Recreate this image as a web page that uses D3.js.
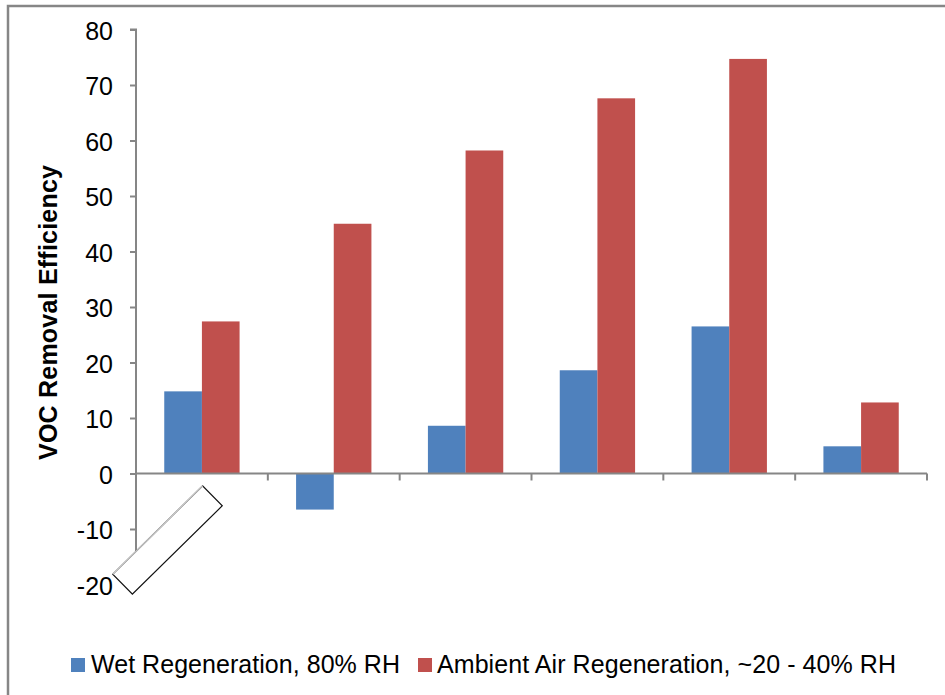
<!DOCTYPE html>
<html>
<head>
<meta charset="utf-8">
<script src="https://cdn.jsdelivr.net/npm/d3@7"></script>
<style>
  html, body { margin: 0; padding: 0; background: #fff; }
  svg { display: block; font-family: "Liberation Sans", Arial, sans-serif; }
</style>
</head>
<body>
<svg id="chart" width="945" height="695"></svg>
<script>
// ---- Data ----
const categories = ["1", "2", "3", "4", "5", "6"];
const seriesNames = ["Wet Regeneration, 80% RH", "Ambient Air Regeneration, ~20 - 40% RH"];
const wetValues = [14.8, -6.5, 8.6, 18.6, 26.5, 4.9];
const ambientValues = [27.4, 45.0, 58.2, 67.6, 74.7, 12.8];
const yTicks = [-20, -10, 0, 10, 20, 30, 40, 50, 60, 70, 80];
const seriesColors = ["#4F81BD", "#C0504D"];
const yTitle = "VOC Removal Efficiency";

(function () {
const series = [wetValues, ambientValues];
const rows = categories.map((c, i) => ({ cat: c, vals: series.map((s, j) => ({ key: j, v: s[i] })) }));

const svg = d3.select("#chart");
const axisColor = "#868686";

// outer chart border
svg.append("rect").attr("x", 8).attr("y", 6).attr("width", 1000).attr("height", 1000)
  .attr("fill", "none").attr("stroke", axisColor).attr("stroke-width", 2.5);

const pLeft = 136, pRight = 927, pTop = 29.5, pBottom = 584.5;
const x = d3.scaleBand().domain(categories).range([pLeft, pRight]).paddingInner(0).paddingOuter(0);
const x1 = d3.scaleBand().domain(d3.range(series.length)).range([0, x.bandwidth()]).paddingInner(0).paddingOuter(0.75);
const y = d3.scaleLinear().domain([-20, 80]).range([pBottom, pTop]);

// bars
const g = svg.append("g");
g.selectAll("g.cat").data(rows).join("g").attr("class", "cat")
  .attr("transform", d => `translate(${x(d.cat)},0)`)
  .selectAll("rect").data(d => d.vals).join("rect")
  .attr("x", d => x1(d.key))
  .attr("width", x1.bandwidth())
  .attr("y", d => y(Math.max(0, d.v)))
  .attr("height", d => Math.abs(y(d.v) - y(0)))
  .attr("fill", d => seriesColors[d.key]);

// y axis
const yAxis = d3.axisLeft(y).tickValues(yTicks).tickSize(6).tickPadding(17).tickFormat(d => String(d));
const ya = svg.append("g").attr("transform", `translate(${pLeft},0)`).call(yAxis);
ya.select(".domain").attr("stroke", axisColor).attr("stroke-width", 2).attr("d", `M-6,${pTop}H0V${pBottom}H-6`);
ya.selectAll(".tick line").attr("stroke", axisColor).attr("stroke-width", 2);
ya.selectAll(".tick text").attr("fill", "#000").attr("dy", "0.38em")
  .style("font-size", "25px").style("font-family", "'Liberation Sans', Arial, sans-serif");

// x axis at zero
const xAxis = d3.axisBottom(x).tickSize(0).tickFormat(() => "");
const xa = svg.append("g").attr("transform", `translate(0,${y(0)})`).call(xAxis);
xa.select(".domain").attr("stroke", axisColor).attr("stroke-width", 2).attr("d", `M${pLeft},0H${pRight}`);
xa.selectAll(".tick").remove();
const bounds = categories.map(c => x(c) + x.bandwidth());
xa.selectAll("line.bt").data(bounds).join("line").attr("class", "bt")
  .attr("x1", d => d).attr("x2", d => d).attr("y1", 0).attr("y2", 7)
  .attr("stroke", axisColor).attr("stroke-width", 2);

// rotated empty text box artifact near first category label
const box = svg.append("g").attr("transform", "translate(167.5,540) rotate(-44.5)");
box.append("rect").attr("x", -63).attr("y", -14).attr("width", 126).attr("height", 28)
  .attr("fill", "#fff").attr("stroke", "#111").attr("stroke-width", 1.2);
box.append("line").attr("x1", -63).attr("y1", -14).attr("x2", 63).attr("y2", -14)
  .attr("stroke", "#c8c8c8").attr("stroke-width", 1.4);

// y title
svg.append("text")
  .attr("transform", `translate(57,${(165 + 460) / 2}) rotate(-90)`)
  .attr("text-anchor", "middle")
  .style("font-size", "25px").style("font-weight", "bold")
  .attr("fill", "#000")
  .attr("textLength", 295).attr("lengthAdjust", "spacing")
  .text(yTitle);

// legend
const legendItems = [
  { name: seriesNames[0], color: seriesColors[0], sx: 71, tx: 91, w: 309 },
  { name: seriesNames[1], color: seriesColors[1], sx: 418, tx: 437, w: 459 }
];
const lg = svg.append("g");
legendItems.forEach(it => {
  lg.append("rect").attr("x", it.sx).attr("y", 658).attr("width", 14).attr("height", 14).attr("fill", it.color);
  lg.append("text").attr("x", it.tx).attr("y", 673).style("font-size", "25px").attr("fill", "#000")
    .attr("textLength", it.w).attr("lengthAdjust", "spacing").text(it.name);
});
})();
</script>
</body>
</html>
